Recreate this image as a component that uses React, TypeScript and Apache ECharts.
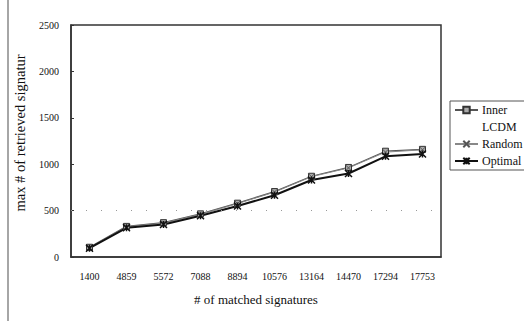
import React, { useEffect, useRef } from "react";
import * as echarts from "echarts";

const categories = ["1400", "4859", "5572", "7088", "8894", "10576", "13164", "14470", "17294", "17753"];
const innerValues = [105, 330, 370, 465, 580, 705, 870, 965, 1140, 1160];
const lcdmValues = [100, 325, 360, 460, 570, 690, 860, 950, 1120, 1150];
const randomValues = [100, 325, 365, 460, 575, 700, 865, 960, 1130, 1155];
const optimalValues = [95, 315, 350, 445, 550, 665, 830, 900, 1085, 1110];
const yTicks = [0, 500, 1000, 1500, 2000, 2500];

const FONT = "Liberation Serif";

export default function App() {
  const ref = useRef<HTMLDivElement>(null);
  useEffect(() => {
    document.body.style.margin = "0";
    if (!ref.current) return;
    const chart = echarts.init(ref.current, null, { renderer: "svg" });
    chart.setOption({
      animation: false,
      backgroundColor: "#ffffff",
      textStyle: { fontFamily: FONT, color: "#111" },
      grid: {
        left: 71,
        right: 83,
        top: 25,
        bottom: 64,
        show: true,
        borderColor: "#333",
        borderWidth: 1.5,
      },
      graphic: [
        { type: "line", shape: { x1: 8, y1: 0, x2: 8, y2: 321 }, style: { stroke: "#888", lineWidth: 1.5 } },
      ],
      legend: {
        orient: "vertical",
        left: 450,
        top: 101,
        itemGap: 5,
        itemWidth: 23,
        itemHeight: 8,
        padding: [3, 3, 3, 4],
        borderColor: "#555",
        borderWidth: 1,
        textStyle: { fontFamily: FONT, fontSize: 12, color: "#111", padding: [0, 0, 0, -1] },
        data: ["Inner", "LCDM", "Random", "Optimal"],
      },
      xAxis: {
        type: "category",
        data: categories,
        boundaryGap: true,
        name: "# of matched signatures",
        nameLocation: "middle",
        nameGap: 36,
        nameTextStyle: { fontFamily: FONT, fontSize: 13, color: "#111" },
        axisLine: { lineStyle: { color: "#333", width: 1.5 } },
        axisTick: { show: false },
        axisLabel: { fontFamily: FONT, fontSize: 10, color: "#111", margin: 14 },
      },
      yAxis: {
        type: "value",
        min: 0,
        max: 2500,
        interval: 500,
        name: "max # of retrieved signatur",
        nameLocation: "middle",
        nameGap: 44,
        nameTextStyle: { fontFamily: FONT, fontSize: 14.5, color: "#111", padding: [0, 0, 0, 16] },
        axisLine: { show: true, lineStyle: { color: "#333", width: 1.5 } },
        axisTick: { show: true, inside: true, length: 3, lineStyle: { color: "#333" } },
        axisLabel: {
          fontFamily: FONT,
          fontSize: 10,
          color: "#111",
          margin: 12,
          formatter: (v: number) => (yTicks.includes(v) ? String(v) : ""),
        },
        splitLine: { show: false },
      },
      series: [
        {
          name: "Inner",
          type: "line",
          data: innerValues,
          symbol: "rect",
          symbolSize: 6,
          itemStyle: { color: "#aaa", borderColor: "#333", borderWidth: 1 },
          lineStyle: { color: "#555", width: 1.2 },
          markLine: {
            silent: true,
            symbol: "none",
            label: { show: false },
            lineStyle: { color: "#999", type: [1, 14], width: 1.2 },
            data: [{ yAxis: 500 }],
          },
        },
        {
          name: "LCDM",
          type: "line",
          data: lcdmValues,
          symbol: "none",
          itemStyle: { color: "#ffffff", opacity: 0 },
          lineStyle: { color: "#ffffff", opacity: 0 },
        },
        {
          name: "Random",
          type: "line",
          data: randomValues,
          symbol: "path://M0,0L10,10M10,0L0,10",
          symbolSize: 6,
          itemStyle: { color: "#555", borderColor: "#555", borderWidth: 1 },
          lineStyle: { color: "#888", width: 1 },
        },
        {
          name: "Optimal",
          type: "line",
          data: optimalValues,
          symbol: "path://M0,0L10,10M10,0L0,10M5,0L5,10",
          symbolSize: 7,
          itemStyle: { color: "#111", borderColor: "#111", borderWidth: 1.5 },
          lineStyle: { color: "#111", width: 2 },
        },
      ],
    });
    return () => chart.dispose();
  }, []);
  return <div ref={ref} style={{ width: 524, height: 321 }} />;
}
